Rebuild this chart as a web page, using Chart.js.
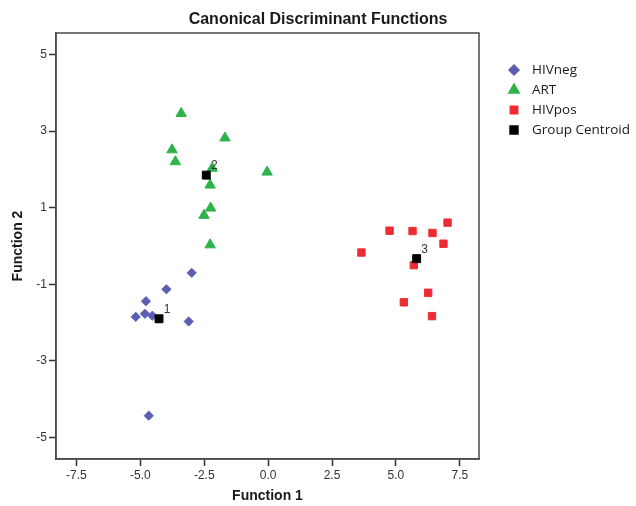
<!DOCTYPE html>
<html>
<head>
<meta charset="utf-8">
<title>Canonical Discriminant Functions</title>
<script src="https://cdn.jsdelivr.net/npm/chart.js@4/dist/chart.umd.min.js"></script>
<style>
  body { margin: 0; background: #fff; }
  #wrap { width: 636px; height: 506px; }
</style>
</head>
<body>
<div id="wrap"><canvas id="scatterChart" width="636" height="506"></canvas></div>
<script>
// values
const hivnegX = [-2.99, -3.98, -4.78, -5.18, -4.82, -4.53, -3.11, -4.67];
const hivnegY = [-0.70, -1.13, -1.44, -1.85, -1.77, -1.82, -1.97, -4.43];

const artX = [-3.40, -1.69, -3.76, -3.63, -0.04, -2.19, -2.27, -2.25, -2.51, -2.27];
const artY = [3.46, 2.82, 2.51, 2.20, 1.93, 2.03, 1.59, 0.99, 0.80, 0.03];

const hivposX = [3.65, 4.75, 5.65, 6.43, 7.02, 6.86, 5.70, 6.26, 5.31, 6.41];
const hivposY = [-0.17, 0.40, 0.39, 0.34, 0.61, 0.06, -0.50, -1.22, -1.47, -1.83];

const centroidX = [-4.27, -2.42, 5.81];
const centroidY = [-1.90, 1.85, -0.33];
const centroidLabels = ["1", "2", "3"];

const xTicks = [-7.5, -5.0, -2.5, 0.0, 2.5, 5.0, 7.5];
const yTicks = [-5, -3, -1, 1, 3, 5];

const toPoints = (xs, ys) => xs.map((x, i) => ({ x: x, y: ys[i] }));

// box around the plot area + group numbers + title + legend
const extras = {
  id: "extras",
  afterDatasetsDraw(chart) {
    const ctx = chart.ctx;
    const area = chart.chartArea;
    const xs = chart.scales.x, ys = chart.scales.y;
    ctx.save();
    // plot frame
    ctx.strokeStyle = "#4a4a4a";
    ctx.lineWidth = 1.5;
    ctx.strokeRect(area.left, area.top, area.right - area.left, area.bottom - area.top);

    // centroid numbers
    ctx.fillStyle = "#333";
    ctx.font = "12px 'Liberation Sans', Arial, sans-serif";
    ctx.textAlign = "center";
    ctx.textBaseline = "middle";
    centroidLabels.forEach((lab, i) => {
      const px = xs.getPixelForValue(centroidX[i]);
      const py = ys.getPixelForValue(centroidY[i]);
      ctx.fillText(lab, px + 8, py - 9);
    });

    // title
    ctx.fillStyle = "#1a1a1a";
    ctx.font = "bold 16px 'Liberation Sans', Arial, sans-serif";
    ctx.fillText("Canonical Discriminant Functions", chart.width / 2, 20);

    // legend
    const items = chart.data.datasets.slice().sort((a, b) => a.legendIndex - b.legendIndex);
    ctx.textAlign = "left";
    ctx.font = "13.5px 'Open Sans', sans-serif";
    items.forEach((ds, i) => {
      const ly = 70 + i * 20;
      ctx.fillStyle = ds.backgroundColor;
      ctx.strokeStyle = ds.borderColor;
      Chart.helpers.drawPoint(ctx, {
        pointStyle: ds.pointStyle,
        radius: ds.legendRadius,
        borderWidth: 1,
        rotation: 0
      }, 514, ly);
      ctx.fillStyle = "#1a1a1a";
      ctx.fillText(ds.label, 532, ly);
    });
    ctx.restore();
  }
};

const ctx = document.getElementById("scatterChart").getContext("2d");
const scatterChart = new Chart(ctx, {
  type: "scatter",
  data: {
    datasets: [
      {
        label: "Group Centroid",
        data: toPoints(centroidX, centroidY),
        pointStyle: "rect",
        pointRadius: 5.6,
        backgroundColor: "#000",
        borderColor: "#000",
        borderWidth: 1,
        order: 0,
        legendIndex: 3,
        legendRadius: 5.6
      },
      {
        label: "HIVneg",
        data: toPoints(hivnegX, hivnegY),
        pointStyle: "rectRot",
        pointRadius: 4.6,
        backgroundColor: "#5a5fb4",
        borderColor: "#5a5fb4",
        borderWidth: 1,
        order: 1,
        legendIndex: 0,
        legendRadius: 5
      },
      {
        label: "ART",
        data: toPoints(artX, artY),
        pointStyle: "triangle",
        pointRadius: 6,
        backgroundColor: "#2db34a",
        borderColor: "#2db34a",
        borderWidth: 1,
        order: 1,
        legendIndex: 1,
        legendRadius: 6
      },
      {
        label: "HIVpos",
        data: toPoints(hivposX, hivposY),
        pointStyle: "rect",
        pointRadius: 5.2,
        backgroundColor: "#ee2b32",
        borderColor: "#ee2b32",
        borderWidth: 1,
        order: 1,
        legendIndex: 2,
        legendRadius: 5.2
      }
    ]
  },
  options: {
    responsive: false,
    devicePixelRatio: 1,
    animation: false,
    layout: {
      padding: { top: 33, right: 157, left: 0, bottom: 0 }
    },
    plugins: {
      legend: { display: false },
      tooltip: { enabled: false }
    },
    scales: {
      x: {
        type: "linear",
        min: -8.3,
        max: 8.25,
        afterFit: (scale) => { scale.height = 47; },
        afterBuildTicks: (scale) => { scale.ticks = xTicks.map(v => ({ value: v })); },
        ticks: {
          callback: (v) => v.toFixed(1),
          color: "#333",
          font: { family: "'Liberation Sans', Arial, sans-serif", size: 12 },
          padding: 2,
          maxRotation: 0
        },
        grid: {
          drawOnChartArea: false,
          drawTicks: true,
          tickLength: 7,
          tickColor: "#333",
          tickWidth: 1.5
        },
        border: { display: true, color: "#4a4a4a", width: 1.5 },
        title: {
          display: true,
          text: "Function 1",
          color: "#1a1a1a",
          font: { family: "'Liberation Sans', Arial, sans-serif", size: 14, weight: "bold" },
          padding: { top: 0, bottom: 1 }
        }
      },
      y: {
        type: "linear",
        min: -5.56,
        max: 5.56,
        afterFit: (scale) => { scale.width = 56; },
        afterBuildTicks: (scale) => { scale.ticks = yTicks.map(v => ({ value: v })); },
        ticks: {
          callback: (v) => String(v),
          color: "#333",
          font: { family: "'Liberation Sans', Arial, sans-serif", size: 12 },
          padding: 2
        },
        grid: {
          drawOnChartArea: false,
          drawTicks: true,
          tickLength: 7,
          tickColor: "#333",
          tickWidth: 1.5
        },
        border: { display: true, color: "#4a4a4a", width: 1.5 },
        title: {
          display: true,
          text: "Function 2",
          color: "#1a1a1a",
          font: { family: "'Liberation Sans', Arial, sans-serif", size: 14, weight: "bold" },
          padding: { top: 10, bottom: 0 }
        }
      }
    }
  },
  plugins: [extras]
});
</script>
</body>
</html>
